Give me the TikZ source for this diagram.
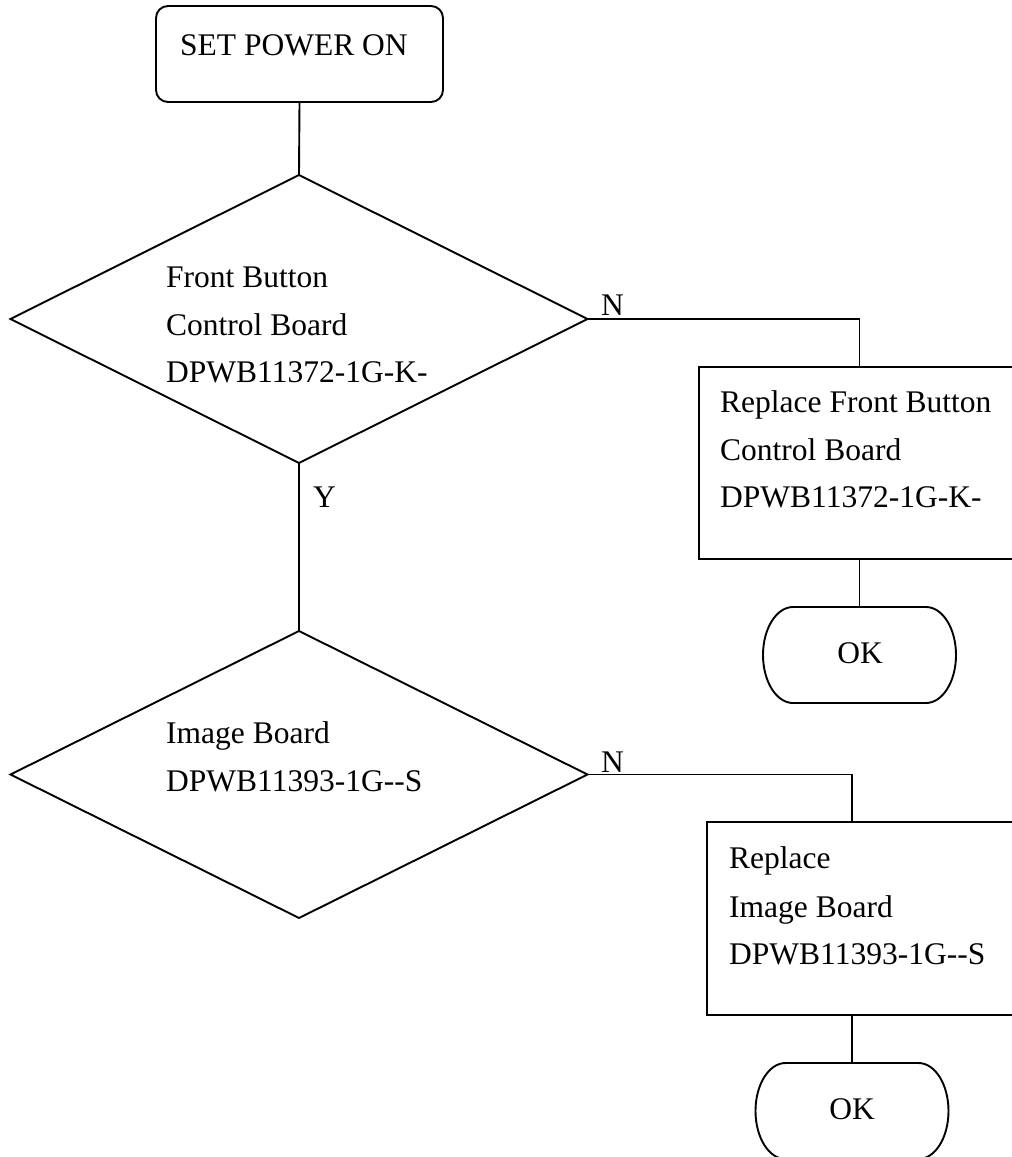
\documentclass[tikz,border=0pt]{standalone}
\usepackage{fontspec}
\setmainfont{Liberation Serif}
\usetikzlibrary{shapes.geometric}
\begin{document}
\begin{tikzpicture}[x=1pt,y=-1pt,
  every node/.style={font=\fontsize{31.5}{47.5}\selectfont},
  ln/.style={line width=1.9pt,black},
  shp/.style={draw,ln,inner sep=0pt,outer sep=0pt},
  startbox/.style={shp,rectangle,rounded corners=12pt,minimum width=287pt,minimum height=96pt},
  decbox/.style={shp,diamond,minimum width=577pt,minimum height=288pt},
  actbox/.style={shp,rectangle,minimum height=192pt,minimum width=340pt},
  endbox/.style={rectangle,inner sep=0pt,outer sep=0pt,minimum width=193pt,minimum height=96pt},
  txt/.style={anchor=base west,inner sep=0pt},
  ctxt/.style={anchor=base,inner sep=0pt}]
\useasboundingbox (0,0) rectangle (1012,1157);
\clip (0,0) rectangle (1012,1157);
% shapes
\node[startbox] (start) at (299.5,54) {};
\node[decbox] (d1) at (299,319) {};
\node[decbox,minimum height=287pt] (d2) at (299,774.5) {};
\node[actbox,anchor=north west] (b1) at (699,367) {};
\node[actbox,anchor=north west,minimum height=193pt] (b2) at (707,822) {};
\node[endbox] (ok1) at (859.5,655) {};
\node[endbox] (ok2) at (852,1111) {};
\foreach \n in {ok1,ok2}{
  \draw[ln] ([xshift=30pt]\n.north west) -- ([xshift=-30pt]\n.north east)
    arc[start angle=90,end angle=-90,x radius=30pt,y radius=48pt]
    -- ([xshift=30pt]\n.south west)
    arc[start angle=270,end angle=90,x radius=30pt,y radius=48pt] -- cycle;
}
% texts
\node[txt] (tstart) at (180,55) {SET POWER ON};
\node[txt] (td1a) at (166,287) {Front Button};
\node[txt] (td1b) at (166,335) {Control Board};
\node[txt] (td1c) at (166,382) {DPWB11372-1G-K-};
\node[txt] (tn1) at (601,315) {N};
\node[txt] (ty) at (313,507) {Y};
\node[txt] (tb1a) at (720,412) {Replace Front Button};
\node[txt] (tb1b) at (720,460) {Control Board};
\node[txt] (tb1c) at (720,507) {DPWB11372-1G-K-};
\node[ctxt] (tok1) at (860,663) {OK};
\node[txt] (td2a) at (166,743) {Image Board};
\node[txt] (td2b) at (166,791) {DPWB11393-1G-{}-S};
\node[txt] (tn2) at (601,772) {N};
\node[txt] (tb2a) at (729,868) {Replace};
\node[txt] (tb2b) at (729,917) {Image Board};
\node[txt] (tb2c) at (729,964) {DPWB11393-1G-{}-S};
\node[ctxt] (tok2) at (852,1119) {OK};
% connectors
\draw[ln] (start.south) -- (d1.north);
\draw[ln] (d1.south) -- (d2.north);
\draw[ln] (d1.east) -| (ok1.north |- b1.north);
\draw[ln] (ok1.north |- b1.south) -- (ok1.north);
\draw[ln] (d2.east) -| (ok2.north |- b2.north);
\draw[ln] (ok2.north |- b2.south) -- (ok2.north);
\end{tikzpicture}
\end{document}
